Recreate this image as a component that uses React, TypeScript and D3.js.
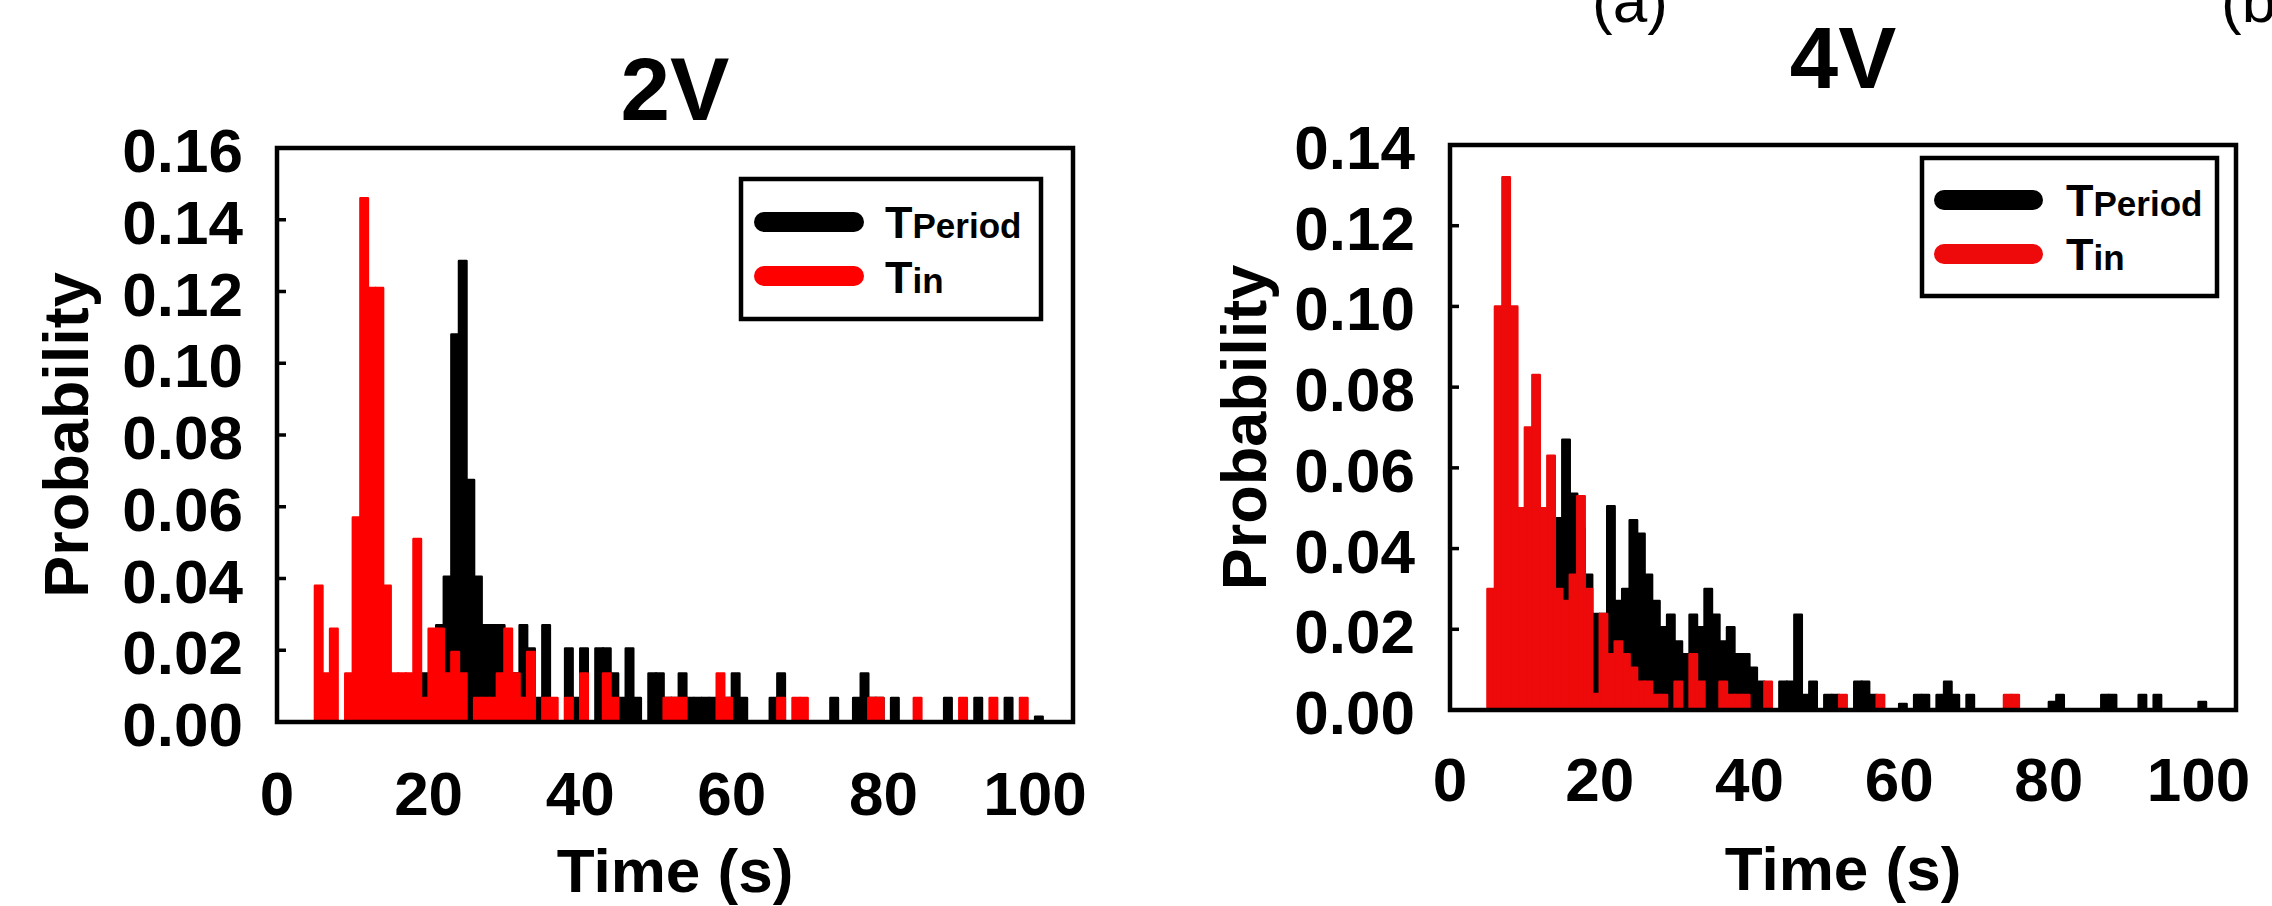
import React from "react";
import * as d3 from "d3";

// ---------- DATA (probability per 1 s bin; first bin starts at FIRST_BIN s) ----------
const FIRST_BIN = 5;
const BIN_WIDTH = 1;

const xTicks = [0, 20, 40, 60, 80, 100];
const yTicks2V = [0, 0.02, 0.04, 0.06, 0.08, 0.1, 0.12, 0.14, 0.16];
const yTicks4V = [0, 0.02, 0.04, 0.06, 0.08, 0.1, 0.12, 0.14];

const seriesNames = ["T", "Period", "T", "in"];

// 2V, T_in (red), bins 5..100
const tin2V = [
  0.038, 0.0135, 0.026, 0, 0.0135, 0.057, 0.146, 0.121, 0.121, 0.038, // 5-14
  0.0135, 0.0135, 0.0135, 0.051, 0.0067, 0.026, 0.026, 0.0135, 0.0195, 0.0135, // 15-24
  0, 0.0067, 0.0067, 0.0067, 0.0135, 0.026, 0.0135, 0.0067, 0.0195, 0, // 25-34
  0.0067, 0.0067, 0, 0.0067, 0, 0.0135, 0, 0, 0.0135, 0.0067, // 35-44
  0, 0, 0, 0, 0, 0, 0.0067, 0.0067, 0.0067, 0, // 45-54
  0, 0, 0, 0.0135, 0.0067, 0, 0, 0, 0, 0, // 55-64
  0, 0.0067, 0, 0.0067, 0.0067, 0, 0, 0, 0, 0, // 65-74
  0, 0, 0, 0.0067, 0.0067, 0, 0, 0, 0, 0.0067, // 75-84
  0, 0, 0, 0, 0, 0.0067, 0, 0, 0, 0.0067, // 85-94
  0, 0, 0, 0.0067, 0, 0, // 95-100
];

// 2V, T_Period (black), bins 5..100
const tPeriod2V = [
  0, 0, 0, 0, 0, 0, 0, 0, 0, 0, // 5-14
  0, 0, 0, 0, 0.0135, 0.0135, 0.027, 0.0405, 0.108, 0.1285, // 15-24
  0.0675, 0.0405, 0.027, 0.027, 0.027, 0.0135, 0.0135, 0.027, 0.0205, 0.0067, // 25-34
  0.027, 0, 0, 0.0205, 0.0067, 0.0205, 0, 0.0205, 0.0205, 0.0135, // 35-44
  0.0067, 0.0205, 0.0067, 0, 0.0135, 0.0135, 0.0067, 0.0067, 0.0135, 0.0067, // 45-54
  0.0067, 0.0067, 0.0067, 0.0067, 0.0067, 0.0135, 0.0067, 0, 0, 0, // 55-64
  0.0067, 0.0135, 0, 0, 0, 0, 0, 0, 0.0067, 0, // 65-74
  0, 0.0067, 0.0135, 0.0067, 0.0067, 0, 0.0067, 0, 0, 0, // 75-84
  0, 0, 0, 0.0067, 0, 0, 0, 0.0067, 0, 0, // 85-94
  0, 0.0067, 0, 0, 0, 0.0015, // 95-100
];

// 4V, T_in (red), bins 5..100
const tin4V = [
  0.03, 0.1, 0.132, 0.1, 0.05, 0.07, 0.083, 0.05, 0.063, 0.03, // 5-14
  0.027, 0.0335, 0.053, 0.03, 0.004, 0.0238, 0.0138, 0.017, 0.0138, 0.0105, // 15-24
  0.007, 0.007, 0.0037, 0.0037, 0, 0.007, 0, 0.0138, 0.007, 0, // 25-34
  0, 0.007, 0.0037, 0.0037, 0.0037, 0, 0, 0.007, 0, 0, // 35-44
  0, 0, 0, 0, 0, 0, 0, 0.0037, 0, 0, // 45-54
  0, 0, 0.0037, 0, 0, 0, 0, 0, 0, 0, // 55-64
  0, 0, 0, 0, 0, 0, 0, 0, 0, 0.0037, // 65-74
  0.0037, 0, 0, 0, 0, 0, 0, 0, 0, 0, // 75-84
  0, 0, 0, 0, 0, 0, 0, 0, 0, 0, // 85-94
  0, 0, 0, 0, 0, 0, // 95-100
];

// 4V, T_Period (black), bins 5..100
const tPeriod4V = [
  0, 0, 0, 0.01, 0.02, 0.02, 0.03, 0.03, 0.04, 0.0475, // 5-14
  0.067, 0.0536, 0.045, 0.0335, 0.0238, 0.0238, 0.0505, 0.027, 0.03, 0.047, // 15-24
  0.0437, 0.0335, 0.027, 0.0205, 0.0236, 0.017, 0.0138, 0.0236, 0.0205, 0.03, // 25-34
  0.0236, 0.017, 0.0205, 0.0138, 0.0138, 0.0105, 0.007, 0, 0, 0.007, // 35-44
  0.007, 0.0236, 0.0037, 0.007, 0, 0.0037, 0.0037, 0, 0, 0.007, // 45-54
  0.007, 0.0037, 0, 0, 0, 0.0015, 0, 0.0037, 0.0037, 0, // 55-64
  0.0037, 0.007, 0.0037, 0, 0.0037, 0, 0, 0, 0, 0, // 65-74
  0, 0, 0, 0, 0, 0.002, 0.0037, 0, 0, 0, // 75-84
  0, 0, 0.0037, 0.0037, 0, 0, 0, 0.0037, 0, 0.0037, // 85-94
  0, 0, 0, 0, 0, 0.002, // 95-100
];

const FONT = "'Liberation Sans', Arial, Helvetica, sans-serif";

type PanelCfg = {
  title: string;
  titleY: number;
  titleSize: number;
  x0: number;
  x1: number;
  yTop: number;
  yBot: number;
  yMax: number;
  yTicks: number[];
  black: number[];
  red: number[];
  redColor: string;
  yLabelX: number;
  xLabelBase: number;
  xTitleBase: number;
  yTitleX: number;
  legend: { x: number; y: number; w: number; h: number; sw0: number; sw1: number; r1: number; r2: number; tx: number; b1: number; b2: number };
};

function Panel({ c }: { c: PanelCfg }) {
  const x = d3.scaleLinear().domain([0, 105]).range([c.x0, c.x1]);
  const y = d3.scaleLinear().domain([0, c.yMax]).range([c.yBot, c.yTop]);
  const bars = (vals: number[], color: string, key: string) =>
    vals.map((v, i) => {
      if (v <= 0) return null;
      const b = FIRST_BIN + i * BIN_WIDTH;
      const xa = x(b);
      const xb = x(b + BIN_WIDTH);
      return (
        <rect
          key={key + i}
          x={xa}
          y={y(v)}
          width={xb - xa}
          height={y(0) - y(v)}
          fill={color}
          stroke={color}
          strokeWidth={2.4}
          strokeLinejoin="round"
        />
      );
    });
  const midX = (c.x0 + c.x1) / 2;
  const midY = (c.yTop + c.yBot) / 2;
  const L = c.legend;
  return (
    <g>
      <text x={midX} y={c.titleY} textAnchor="middle" fontSize={c.titleSize} fontWeight="bold" fontFamily={FONT}>
        {c.title}
      </text>
      {bars(c.black, "#000", "k")}
      {bars(c.red, c.redColor, "r")}
      <rect x={c.x0} y={c.yTop} width={c.x1 - c.x0} height={c.yBot - c.yTop} fill="none" stroke="#000" strokeWidth={4.5} />
      {c.yTicks.map((t) => (
        <g key={"yt" + t}>
          <line x1={c.x0} x2={c.x0 + 9} y1={y(t)} y2={y(t)} stroke="#000" strokeWidth={3.5} />
          <text x={c.yLabelX} y={y(t) + 24} textAnchor="end" fontSize={62} fontWeight="bold" fontFamily={FONT}>
            {d3.format(".2f")(t)}
          </text>
        </g>
      ))}
      {xTicks.map((t) => (
        <text key={"xt" + t} x={x(t)} y={c.xLabelBase} textAnchor="middle" fontSize={62} fontWeight="bold" fontFamily={FONT}>
          {t}
        </text>
      ))}
      <text x={midX} y={c.xTitleBase} textAnchor="middle" fontSize={62} fontWeight="bold" fontFamily={FONT}>
        Time (s)
      </text>
      <text
        transform={`translate(${c.yTitleX},${midY}) rotate(-90)`}
        textAnchor="middle"
        fontSize={63}
        fontWeight="bold"
        fontFamily={FONT}
      >
        Probability
      </text>
      <rect x={L.x} y={L.y} width={L.w} height={L.h} fill="#fff" stroke="#000" strokeWidth={4.5} />
      <line x1={L.sw0} x2={L.sw1} y1={L.r1} y2={L.r1} stroke="#000" strokeWidth={20} strokeLinecap="round" />
      <line x1={L.sw0} x2={L.sw1} y1={L.r2} y2={L.r2} stroke={c.redColor} strokeWidth={20} strokeLinecap="round" />
      <text x={L.tx} y={L.b1} fontWeight="bold" fontFamily={FONT}>
        <tspan fontSize={45}>{seriesNames[0]}</tspan>
        <tspan fontSize={35}>{seriesNames[1]}</tspan>
      </text>
      <text x={L.tx} y={L.b2} fontWeight="bold" fontFamily={FONT}>
        <tspan fontSize={45}>{seriesNames[2]}</tspan>
        <tspan fontSize={35}>{seriesNames[3]}</tspan>
      </text>
    </g>
  );
}

const panelA: PanelCfg = {
  title: "2V",
  titleY: 120,
  titleSize: 89,
  x0: 277,
  x1: 1073,
  yTop: 148,
  yBot: 722,
  yMax: 0.16,
  yTicks: yTicks2V,
  black: tPeriod2V,
  red: tin2V,
  redColor: "#ff0000",
  yLabelX: 243,
  xLabelBase: 815,
  xTitleBase: 892,
  yTitleX: 88,
  legend: { x: 741, y: 179, w: 300, h: 140, sw0: 764, sw1: 854, r1: 222, r2: 276, tx: 885, b1: 238, b2: 293 },
};

const panelB: PanelCfg = {
  title: "4V",
  titleY: 88,
  titleSize: 87,
  x0: 1450,
  x1: 2236,
  yTop: 145,
  yBot: 710,
  yMax: 0.14,
  yTicks: yTicks4V,
  black: tPeriod4V,
  red: tin4V,
  redColor: "#ee0a0a",
  yLabelX: 1415,
  xLabelBase: 801,
  xTitleBase: 890,
  yTitleX: 1266,
  legend: { x: 1922, y: 158, w: 295, h: 138, sw0: 1944, sw1: 2033, r1: 200, r2: 254, tx: 2066, b1: 216, b2: 270 },
};

export default function App() {
  return (
    <svg
      width={2272}
      height={906}
      viewBox="0 0 2272 906"
      style={{ position: "absolute", left: 0, top: 0, background: "#fff" }}
    >
      <rect x={0} y={0} width={2272} height={906} fill="#fff" />
      <Panel c={panelA} />
      <Panel c={panelB} />
      <text x={1592} y={22} fontSize={62} fontFamily={FONT}>(a)</text>
      <text x={2221} y={22} fontSize={62} fontFamily={FONT}>(b)</text>
    </svg>
  );
}
